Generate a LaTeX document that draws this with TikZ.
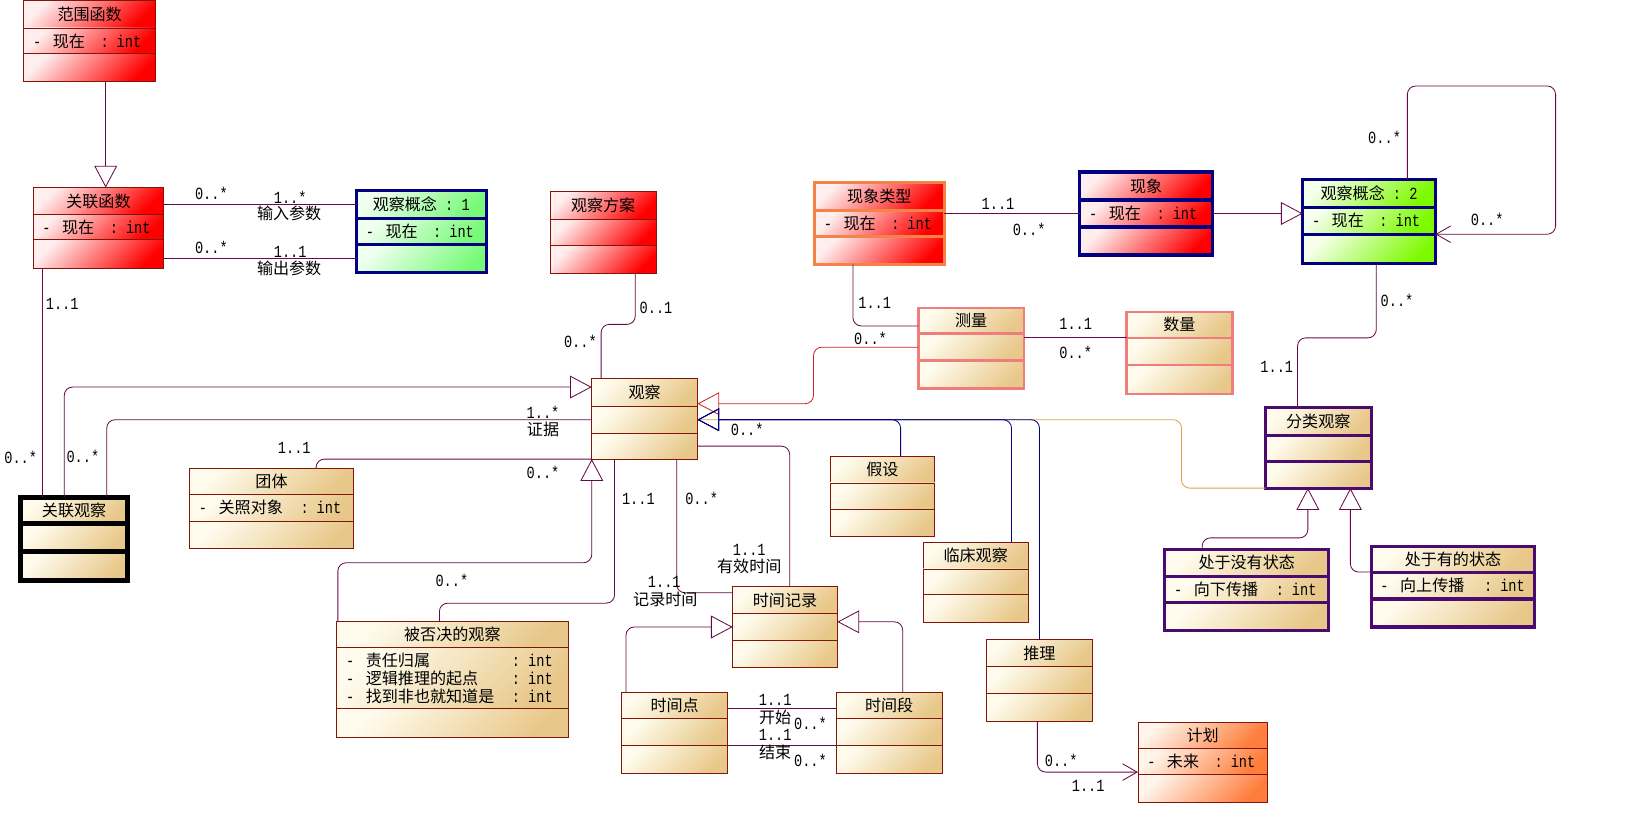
\documentclass[tikz,border=0pt]{standalone}
\usepackage{fontspec}
\setmainfont{Noto Sans CJK SC}
\newfontfamily\mono{Liberation Mono}[Scale=1.06, FakeStretch=0.8]
\usepackage{tikz}
\usetikzlibrary{positioning}
\usetikzlibrary{arrows.meta}

\definecolor{linec}{RGB}{100,10,70}
\definecolor{boxc}{RGB}{130,20,10}
\definecolor{navyc}{RGB}{0,0,128}
\definecolor{purplec}{RGB}{75,10,110}
\definecolor{salmonc}{RGB}{240,125,125}
\definecolor{orangeb}{RGB}{245,130,70}
\definecolor{orangec}{RGB}{225,160,70}
\definecolor{redc}{RGB}{205,35,35}
\definecolor{beige1}{RGB}{255,252,238}
\definecolor{beige2}{RGB}{232,200,138}
\definecolor{red1}{RGB}{255,238,238}
\definecolor{red2}{RGB}{255,0,0}
\definecolor{grn1}{RGB}{240,255,240}
\definecolor{grn2}{RGB}{120,250,120}
\definecolor{lime1}{RGB}{245,255,235}
\definecolor{lime2}{RGB}{125,250,0}
\definecolor{org1}{RGB}{255,245,235}
\definecolor{org2}{RGB}{255,125,60}

\newcommand{\cnsize}{\fontsize{15.5}{17.3}\selectfont}
\newcommand{\attrrow}[2]{\makebox[19pt][l]{\mono -}\makebox[#2][l]{#1}{\mono : int}}

\tikzset{
  box/.style={draw=boxc, line width=0.8pt, outer sep=0pt, inner sep=0pt, anchor=north west, font=\cnsize},
  attr/.style={inner xsep=9pt, align=left},
  beige/.style={top color=beige1, bottom color=beige2, shading angle=45},
  redbox/.style={top color=red1, bottom color=red2, shading angle=45},
  greenbox/.style={top color=grn1, bottom color=grn2, shading angle=45},
  limebox/.style={top color=lime1, bottom color=lime2, shading angle=45},
  orangebox/.style={top color=org1, bottom color=org2, shading angle=45},
  navyedge/.style={draw=navyc, line width=3pt},
  blackedge/.style={draw=black, line width=4.5pt},
  salmonedge/.style={draw=salmonc, line width=2.5pt},
  orangeedge/.style={draw=orangeb, line width=3pt},
  purpleedge/.style={draw=purplec, line width=3pt},
  assoc/.style={draw=linec, line width=0.8pt, rounded corners=8pt},
  gen/.style={assoc, -{Triangle[open, length=21pt, width=22pt]}},
  nav/.style={assoc, -{Straight Barb[length=14pt, width=16pt]}},
  mult/.style={inner sep=0pt, font=\cnsize\mono},
  role/.style={inner sep=0pt, font=\cnsize},
}

\begin{document}
\begin{tikzpicture}[x=1pt, y=-1pt]
\useasboundingbox (0,0) rectangle (1568,803);

% classes
\node[box, redbox, minimum width=127pt, minimum height=27pt] (fanwei) at (23,0) {范围函数};
\node[box, attr, redbox, text width=109pt, minimum height=25pt, below=0pt of fanwei] (fanwei-a) {\attrrow{现在}{46pt}};
\node[box, redbox, minimum width=127pt, minimum height=27pt, below=0pt of fanwei-a] (fanwei-o) {};

\node[box, redbox, minimum width=126pt, minimum height=26pt] (glhs) at (32,181) {关联函数};
\node[box, attr, redbox, text width=108pt, minimum height=24pt, below=0pt of glhs] (glhs-a) {\attrrow{现在}{46pt}};
\node[box, redbox, minimum width=126pt, minimum height=28pt, below=0pt of glhs-a] (glhs-o) {};

\node[box, greenbox, navyedge, minimum width=125pt, minimum height=27pt] (gn1) at (344,184) {观察概念{\mono\ :\ 1}};
\node[box, attr, greenbox, navyedge, text width=107pt, minimum height=25pt, below=0pt of gn1] (gn1-a) {\attrrow{现在}{46pt}};
\node[box, greenbox, navyedge, minimum width=125pt, minimum height=27pt, below=0pt of gn1-a] (gn1-o) {};

\node[box, redbox, minimum width=102pt, minimum height=27pt] (fangan) at (531,185) {观察方案};
\node[box, redbox, minimum width=102pt, minimum height=25pt, below=0pt of fangan] (fangan-a) {};
\node[box, redbox, minimum width=102pt, minimum height=27pt, below=0pt of fangan-a] (fangan-o) {};

\node[box, redbox, orangeedge, minimum width=125pt, minimum height=27pt] (leixing) at (786,176) {现象类型};
\node[box, attr, redbox, orangeedge, text width=107pt, minimum height=25pt, below=0pt of leixing] (leixing-a) {\attrrow{现在}{46pt}};
\node[box, redbox, orangeedge, minimum width=125pt, minimum height=27pt, below=0pt of leixing-a] (leixing-o) {};

\node[box, redbox, navyedge, minimum width=128pt, minimum height=27pt] (xianx) at (1042,166) {现象};
\node[box, attr, redbox, navyedge, text width=110pt, minimum height=26pt, below=0pt of xianx] (xianx-a) {\attrrow{现在}{46pt}};
\node[box, redbox, navyedge, minimum width=128pt, minimum height=27pt, below=0pt of xianx-a] (xianx-o) {};

\node[box, limebox, navyedge, minimum width=128pt, minimum height=27pt] (gn2) at (1257,173) {观察概念{\mono\ :\ 2}};
\node[box, attr, limebox, navyedge, text width=110pt, minimum height=26pt, below=0pt of gn2] (gn2-a) {\attrrow{现在}{46pt}};
\node[box, limebox, navyedge, minimum width=128pt, minimum height=28pt, below=0pt of gn2-a] (gn2-o) {};

\node[box, beige, salmonedge, minimum width=102pt, minimum height=25pt] (celiang) at (886,297) {测量};
\node[box, beige, salmonedge, minimum width=102pt, minimum height=26pt, below=0pt of celiang] (celiang-a) {};
\node[box, beige, salmonedge, minimum width=102pt, minimum height=27pt, below=0pt of celiang-a] (celiang-o) {};

\node[box, beige, salmonedge, minimum width=102pt, minimum height=25pt] (shuliang) at (1087,301) {数量};
\node[box, beige, salmonedge, minimum width=102pt, minimum height=26pt, below=0pt of shuliang] (shuliang-a) {};
\node[box, beige, salmonedge, minimum width=102pt, minimum height=28pt, below=0pt of shuliang-a] (shuliang-o) {};

\node[box, beige, minimum width=102pt, minimum height=27pt] (guancha) at (571,365) {观察};
\node[box, beige, minimum width=102pt, minimum height=26pt, below=0pt of guancha] (guancha-a) {};
\node[box, beige, minimum width=102pt, minimum height=25pt, below=0pt of guancha-a] (guancha-o) {};

\node[box, beige, purpleedge, minimum width=102pt, minimum height=27pt] (fenlei) at (1221,393) {分类观察};
\node[box, beige, purpleedge, minimum width=102pt, minimum height=25pt, below=0pt of fenlei] (fenlei-a) {};
\node[box, beige, purpleedge, minimum width=102pt, minimum height=26pt, below=0pt of fenlei-a] (fenlei-o) {};

\node[box, beige, minimum width=158pt, minimum height=25pt] (tuanti) at (183,452) {团体};
\node[box, attr, beige, text width=140pt, minimum height=26pt, below=0pt of tuanti] (tuanti-a) {\attrrow{关照对象}{79pt}};
\node[box, beige, minimum width=158pt, minimum height=26pt, below=0pt of tuanti-a] (tuanti-o) {};

\node[box, beige, blackedge, minimum width=103pt, minimum height=25pt] (glgc) at (20,480) {关联观察};
\node[box, beige, blackedge, minimum width=103pt, minimum height=27pt, below=0pt of glgc] (glgc-a) {};
\node[box, beige, blackedge, minimum width=103pt, minimum height=28pt, below=0pt of glgc-a] (glgc-o) {};

\node[box, beige, minimum width=101pt, minimum height=26pt] (jiashe) at (801,440) {假设};
\node[box, beige, minimum width=101pt, minimum height=26pt, below=0pt of jiashe] (jiashe-a) {};
\node[box, beige, minimum width=101pt, minimum height=26pt, below=0pt of jiashe-a] (jiashe-o) {};

\node[box, beige, minimum width=101pt, minimum height=26pt] (linch) at (891,523) {临床观察};
\node[box, beige, minimum width=101pt, minimum height=25pt, below=0pt of linch] (linch-a) {};
\node[box, beige, minimum width=101pt, minimum height=27pt, below=0pt of linch-a] (linch-o) {};

\node[box, beige, minimum width=223pt, minimum height=25pt] (bufou) at (325,600) {被否决的观察};
\node[box, attr, beige, text width=205pt, minimum height=59pt, below=0pt of bufou] (bufou-a) {\attrrow{责任归属}{141pt}\\\attrrow{逻辑推理的起点}{141pt}\\\attrrow{找到非也就知道是}{141pt}};
\node[box, beige, minimum width=223pt, minimum height=28pt, below=0pt of bufou-a] (bufou-o) {};

\node[box, beige, minimum width=101pt, minimum height=26pt] (sjjl) at (707,566) {时间记录};
\node[box, beige, minimum width=101pt, minimum height=26pt, below=0pt of sjjl] (sjjl-a) {};
\node[box, beige, minimum width=101pt, minimum height=26pt, below=0pt of sjjl-a] (sjjl-o) {};

\node[box, beige, purpleedge, minimum width=158pt, minimum height=26pt] (meiyou) at (1124,530) {处于没有状态};
\node[box, attr, beige, purpleedge, text width=140pt, minimum height=25pt, below=0pt of meiyou] (meiyou-a) {\attrrow{向下传播}{79pt}};
\node[box, beige, purpleedge, minimum width=158pt, minimum height=27pt, below=0pt of meiyou-a] (meiyou-o) {};

\node[box, beige, purpleedge, minimum width=158pt, minimum height=25pt] (youde) at (1323,527) {处于有的状态};
\node[box, attr, beige, purpleedge, text width=140pt, minimum height=26pt, below=0pt of youde] (youde-a) {\attrrow{向上传播}{81pt}};
\node[box, beige, purpleedge, minimum width=158pt, minimum height=27pt, below=0pt of youde-a] (youde-o) {};

\node[box, beige, minimum width=102pt, minimum height=26pt] (tuili) at (952,617) {推理};
\node[box, beige, minimum width=102pt, minimum height=26pt, below=0pt of tuili] (tuili-a) {};
\node[box, beige, minimum width=102pt, minimum height=27pt, below=0pt of tuili-a] (tuili-o) {};

\node[box, beige, minimum width=102pt, minimum height=25pt] (sjd) at (600,668) {时间点};
\node[box, beige, minimum width=102pt, minimum height=26pt, below=0pt of sjd] (sjd-a) {};
\node[box, beige, minimum width=102pt, minimum height=27pt, below=0pt of sjd-a] (sjd-o) {};

\node[box, beige, minimum width=102pt, minimum height=25pt] (sjduan) at (807,668) {时间段};
\node[box, beige, minimum width=102pt, minimum height=26pt, below=0pt of sjduan] (sjduan-a) {};
\node[box, beige, minimum width=102pt, minimum height=27pt, below=0pt of sjduan-a] (sjduan-o) {};

\node[box, orangebox, minimum width=125pt, minimum height=25pt] (jihua) at (1098,697) {计划};
\node[box, attr, orangebox, text width=107pt, minimum height=25pt, below=0pt of jihua] (jihua-a) {\attrrow{未来}{46pt}};
\node[box, orangebox, minimum width=125pt, minimum height=27pt, below=0pt of jihua-a] (jihua-o) {};

% connectors
\draw[gen] ([xshift=79pt]fanwei-o.south west) -- ([xshift=70pt]glhs.north west);
\draw[assoc] (glhs.east |- gn1.west) -- (gn1.west);
\draw[assoc] (glhs-o.east |- gn1-o.west) -- (gn1-o.west);
\draw[assoc] ([xshift=9pt]glhs-o.south west) -- ([xshift=9pt]glhs-o.south west |- glgc.north);
\draw[gen] ([xshift=42pt]glgc.north west) |- ([yshift=5pt]guancha.west);
\draw[assoc] ([xshift=83pt]glgc.north west) |- (guancha-a.west);
\draw[assoc] ([xshift=122pt]tuanti.north west) |- (guancha-o.south west);
\draw[gen] ([xshift=1pt]bufou.north west) -- ++(0,-57) -| (guancha-o.south west);
\draw[assoc] ([xshift=99pt]bufou.north west) -- ++(0,-18) -| ([xshift=22pt]guancha-o.south west);
\draw[assoc] ([xshift=82pt]fangan-o.south west) -- ++(0,49) -| ([xshift=9pt]guancha.north west);
\draw[assoc] (leixing-a.east |- xianx-a.west) -- (xianx-a.west);
\draw[gen] (xianx-a.east) -- (xianx-a.east -| gn2.west);
\draw[nav] ([xshift=101pt]gn2.north west) |- ++(143,-90) |- (gn2-a.south east);
\draw[assoc] ([xshift=71pt]gn2-o.south west) -- ++(0,72) -| ([xshift=31pt]fenlei.north west);
\draw[assoc] ([xshift=37pt]leixing-o.south west) |- ([yshift=-5pt]celiang.west);
\draw[assoc] (celiang-a.east |- shuliang-a.north west) -- (shuliang-a.north west);
\draw[gen, draw=redc] (celiang-a.west) -- ++(-101,0) |- ([yshift=-11pt]guancha.east);
\draw[assoc, draw=orangec] (fenlei-o.south west) -- ++(-81,0) |- (guancha-a.east);
\draw[gen, draw=navyc] ([xshift=68pt]jiashe.north west) |- (guancha-a.east);
\draw[gen, draw=navyc] ([xshift=85pt]linch.north west) |- (guancha-a.east);
\draw[gen, draw=navyc] ([xshift=51pt]tuili.north west) |- (guancha-a.east);
\draw[assoc] (guancha-o.east) -| ([xshift=55pt]sjjl.north west);
\draw[assoc] ([xshift=82pt]guancha-o.south west) |- ([yshift=7pt]sjjl.west);
\draw[gen] ([xshift=4pt]sjd.north west) |- (sjjl-a.west);
\draw[gen] ([xshift=64pt]sjduan.north west) |- ([yshift=5pt]sjjl-a.east);
\draw[assoc] ([yshift=-3pt]sjd.east) -- ([yshift=-3pt]sjduan.west);
\draw[assoc] (sjd-o.north east) -- (sjduan-o.north west);
\draw[nav] ([xshift=49pt]tuili-o.south west) |- ([yshift=2pt]jihua-a.south west);
\draw[gen] ([xshift=36pt]meiyou.north west) -- ++(0,-11) -| ([xshift=41pt]fenlei-o.south west);
\draw[gen] (youde-a.north west) -| ([xshift=82pt]fenlei-o.south west);

% multiplicities and roles
\node[mult] (m1) at (204,187) {0..*};
\node[mult] (m2) at (280,190) {1..*};
\node[role] (r1) at (279,206) {输入参数};
\node[mult] (m3) at (204,239) {0..*};
\node[mult] (m4) at (280,243) {1..1};
\node[role] (r2) at (279,259) {输出参数};
\node[mult] (m5) at (60,293) {1..1};
\node[mult] (m6) at (20,441) {0..*};
\node[mult] (m7) at (80,440) {0..*};
\node[mult] (m8) at (524,398) {1..*};
\node[role] (r3) at (524,414) {证据};
\node[mult] (m9) at (284,432) {1..1};
\node[mult] (m10) at (524,456) {0..*};
\node[mult] (m11) at (436,560) {0..*};
\node[mult] (m12) at (616,481) {1..1};
\node[mult] (m13) at (633,297) {0..1};
\node[mult] (m14) at (560,329) {0..*};
\node[mult] (m15) at (963,197) {1..1};
\node[mult] (m16) at (993,221) {0..*};
\node[mult] (m17) at (1336,133) {0..*};
\node[mult] (m18) at (1435,212) {0..*};
\node[mult] (m19) at (1348,290) {0..*};
\node[mult] (m20) at (1232,354) {1..1};
\node[mult] (m21) at (844,292) {1..1};
\node[mult] (m22) at (840,327) {0..*};
\node[mult] (m23) at (1038,313) {1..1};
\node[mult] (m24) at (1038,340) {0..*};
\node[mult] (m25) at (721,414) {0..*};
\node[mult] (m26) at (723,531) {1..1};
\node[role] (r4) at (723,547) {有效时间};
\node[mult] (m27) at (677,481) {0..*};
\node[mult] (m28) at (641,561) {1..1};
\node[role] (r5) at (642,578) {记录时间};
\node[mult] (m29) at (748,675) {1..1};
\node[role] (r6) at (748,692) {开始};
\node[mult] (m30) at (782,698) {0..*};
\node[mult] (m31) at (748,709) {1..1};
\node[role] (r7) at (748,726) {结束};
\node[mult] (m32) at (782,734) {0..*};
\node[mult] (m33) at (1024,734) {0..*};
\node[mult] (m34) at (1050,758) {1..1};
\end{tikzpicture}
\end{document}
